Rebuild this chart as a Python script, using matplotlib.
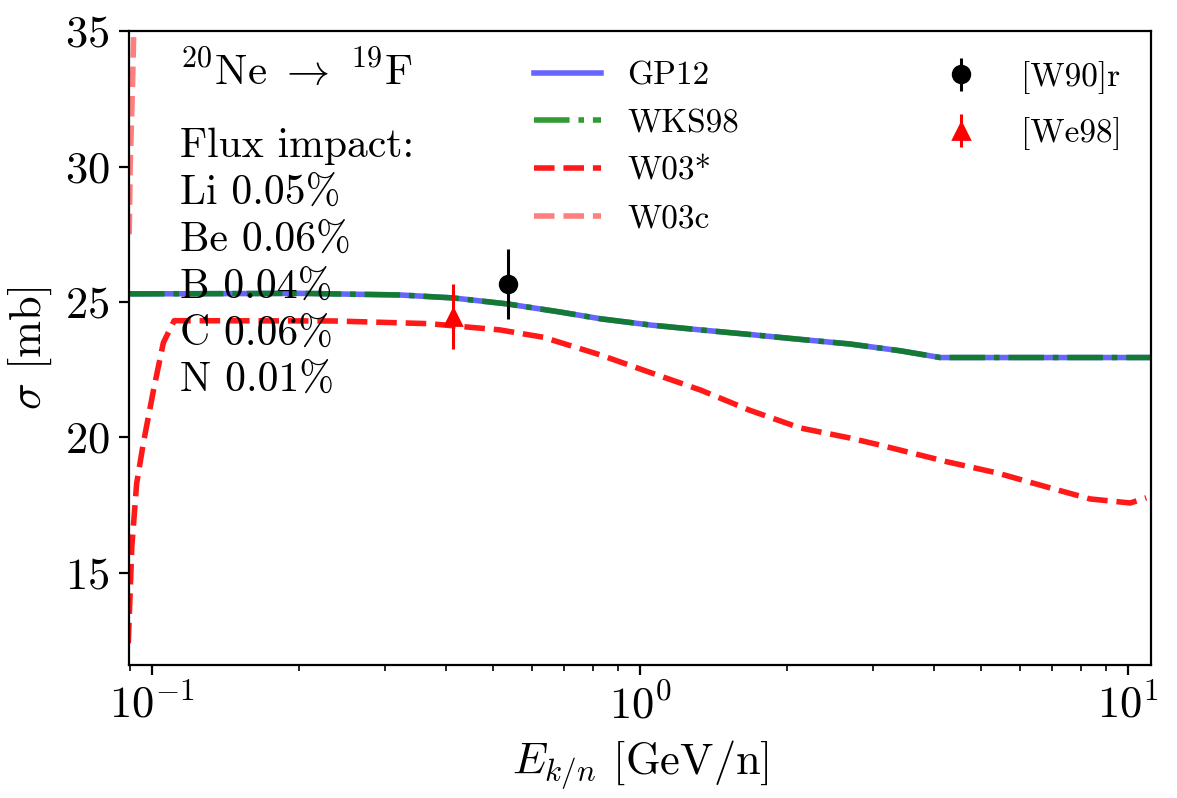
import matplotlib
matplotlib.use("Agg")
import matplotlib.pyplot as plt

plt.rcParams['font.family'] = 'serif'
plt.rcParams['font.serif'] = ['cmr10']
plt.rcParams['mathtext.fontset'] = 'cm'
plt.rcParams['axes.formatter.use_mathtext'] = True
plt.rcParams['font.size'] = 16

# GP12 / WKS98 (almost the same curve)
gp_x = [0.0897, 0.15, 0.2, 0.322, 0.414, 0.534, 0.686, 0.83, 1.05, 1.33, 1.68, 2.13, 2.69, 3.41, 4.12, 11.2]
gp_y = [25.3, 25.31, 25.32, 25.26, 25.15, 24.93, 24.63, 24.38, 24.15, 23.97, 23.8, 23.62, 23.45, 23.2, 22.95, 22.95]
wks_x = gp_x
wks_y = gp_y

# W03*
w03_x = [0.0894, 0.0909, 0.093, 0.096, 0.1007, 0.1055, 0.111, 0.235, 0.37, 0.516, 0.633,
         0.828, 1.048, 1.33, 1.68, 2.13, 2.69, 3.1, 4.26, 5.39, 6.82, 8.36, 10.1, 10.9]
w03_y = [12.4, 15.97, 18.3, 19.8, 21.75, 23.5, 24.31, 24.3, 24.2, 23.97, 23.7,
         23.05, 22.4, 21.75, 21.0, 20.35, 19.98, 19.72, 19.1, 18.69, 18.17, 17.73, 17.58, 17.77]

# W03c
w03c_x = [0.0898, 0.0902, 0.0912, 0.092]
w03c_y = [27.5, 30.0, 33.0, 36.0]

# data points
w90_x = [0.537]
w90_y = [25.66]
w90_err = [1.28]
we98_x = [0.414]
we98_y = [24.45]
we98_err = [1.2]

fig = plt.figure(figsize=(5.885, 3.99), dpi=200)
ax = fig.add_axes([0.1096, 0.1667, 0.8684, 0.7943])

l1, = ax.plot(gp_x, gp_y, color='blue', alpha=0.6, lw=2, label='GP12')
l2, = ax.plot(wks_x, wks_y, color='green', alpha=0.8, lw=2, ls='-.', label='WKS98')
l3, = ax.plot(w03_x, w03_y, color='red', alpha=0.9, lw=2, ls='--', label='W03*')
l4, = ax.plot(w03c_x, w03c_y, color='red', alpha=0.5, lw=2, ls='--', label='W03c')

e1 = ax.errorbar(w90_x, w90_y, yerr=w90_err, fmt='o', color='black', ms=6, elinewidth=1.1, label='[W90]r')
e2 = ax.errorbar(we98_x, we98_y, yerr=we98_err, fmt='^', color='red', ms=6, elinewidth=1.1, label='[We98]')

ax.set_xscale('log')
ax.set_xlim(0.0897, 11.15)
ax.set_ylim(11.6, 35)
ax.set_yticks([15, 20, 25, 30, 35])
ax.set_xlabel(r'$E_{k/n}$ [GeV/n]')
ax.set_ylabel(r'$\sigma$ [mb]')

ax.text(0.05, 0.97, r'$^{20}$Ne$\ \rightarrow\ ^{19}$F', transform=ax.transAxes, va='top', ha='left',
        fontsize=15.5)
ax.text(0.05, 0.848, 'Flux impact:\nLi 0.05%\nBe 0.06%\nB 0.04%\nC 0.06%\nN 0.01%',
        transform=ax.transAxes, va='top', ha='left', fontsize=15, linespacing=1.32)

leg1 = ax.legend(handles=[l1, l2, l3, l4], loc='upper left', bbox_to_anchor=(0.367, 1.0),
                 frameon=False, fontsize=12, labelspacing=0.55)
ax.add_artist(leg1)
ax.legend(handles=[e1, e2], loc='upper left', bbox_to_anchor=(0.752, 1.0),
          frameon=False, fontsize=12, labelspacing=0.7)

fig.savefig('out.png', dpi=200)
